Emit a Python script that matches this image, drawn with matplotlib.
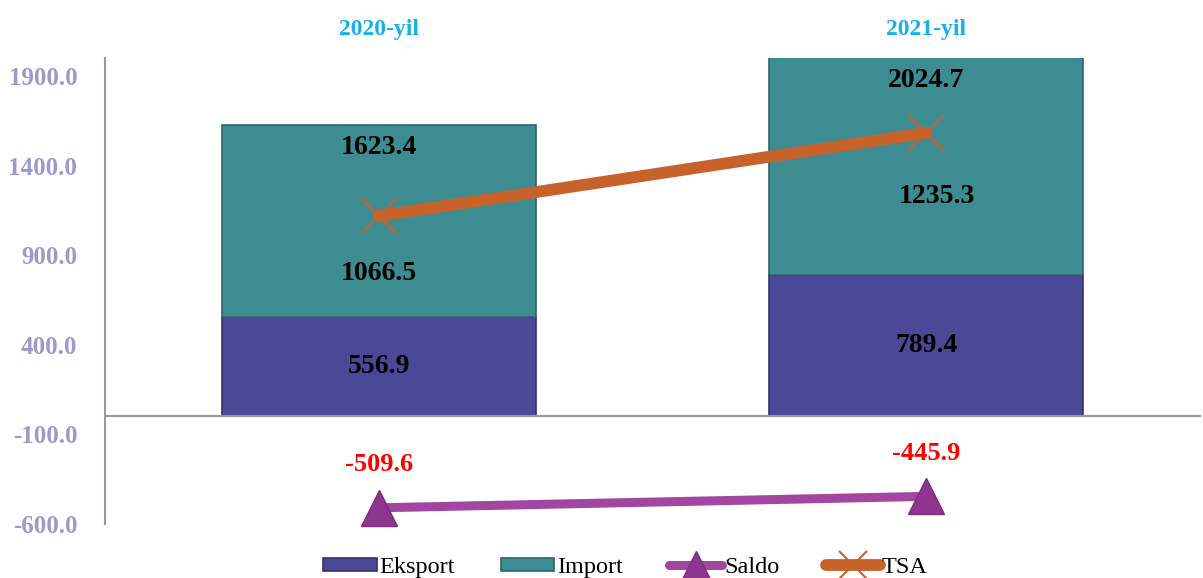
# trade chart: eksport / import bars, saldo and TSA lines
import matplotlib
matplotlib.use('Agg')
import matplotlib.pyplot as plt
import matplotlib.transforms as mtransforms
import numpy as np

# data
years = ['2020-yil', '2021-yil']
eksport = [556.9, 789.4]
import_ = [1066.5, 1235.3]
saldo = [-509.6, -445.9]
tsa = [1623.4, 2024.7]
yticks = [-600, -100, 400, 900, 1400, 1900]

plt.rcParams['font.family'] = ['Liberation Serif', 'DejaVu Serif']

fig = plt.figure(figsize=(12.03, 5.78), dpi=100)
ax = fig.add_axes([105/1203, 1-524/578, 1095/1203, 466/578])

x = np.arange(len(years))
w = 0.573

# bars
b1 = ax.bar(x, eksport, w, color='#4b4898', edgecolor='#34326c', linewidth=1.2,
            label='Eksport', zorder=2)
b2 = ax.bar(x, import_, w, bottom=eksport, color='#3d8c91', edgecolor='#2b6669',
            linewidth=1.2, label='Import', zorder=2)

# saldo line
l1, = ax.plot(x, saldo, '-', color='#a146a1', lw=6.5, marker='^', ms=26,
              mfc='#8e358f', mec='#7a2d7b', solid_capstyle='round', label='Saldo',
              zorder=4, clip_on=False)

ax.set_xlim(-0.5, 1.5)
ax.set_ylim(-600, 2000)
ax.set_yticks(yticks)
ax.set_yticklabels(['%.1f' % v for v in yticks], fontsize=18, fontweight='bold',
                   color='#9a9acb')
ax.tick_params(axis='y', length=0, pad=20)
ax.set_xticks([])

# year labels on top
trans = mtransforms.blended_transform_factory(ax.transData, ax.transAxes)
for i in range(len(x)):
    ax.text(x[i], 1 + 28/466, years[i], transform=trans, ha='center', va='center',
            fontsize=17, fontweight='bold', color='#16b0ea')

ax.spines['top'].set_visible(False)
ax.spines['right'].set_visible(False)
ax.spines['bottom'].set_position(('data', 0))
ax.spines['bottom'].set_color('#999999')
ax.spines['bottom'].set_linewidth(1.5)
ax.spines['left'].set_color('#999999')
ax.spines['left'].set_linewidth(1.5)

# TSA on hidden secondary axis
ax2 = ax.twinx()
ax2.set_ylim(134, 2387)
ax2.axis('off')
l2, = ax2.plot(x, tsa, '-', color='#c6622a', lw=8.5, marker='x', ms=26, mew=1.5,
               mec='#c6622a', solid_capstyle='round', label='TSA', zorder=3)

# value labels
lbl = dict(ha='center', va='center', fontsize=20, fontweight='bold', color='black')
import_lbl_y = [800, 1225]
for i in range(len(x)):
    ax2.text(x[i], eksport[i]/2, '%.1f' % eksport[i], transform=ax.transData, **lbl)
    ax2.annotate('%.1f' % import_[i], xy=(x[i], import_lbl_y[i]), xycoords=ax.transData,
                 xytext=(8*i, 0), textcoords='offset points', **lbl)
    ax2.annotate('%.1f' % tsa[i], xy=(x[i], min(eksport[i]+import_[i], 2000)),
                 xycoords=ax.transData, xytext=(0, -16), textcoords='offset points',
                 **lbl)
    ax2.annotate('%.1f' % saldo[i], xy=(x[i], saldo[i]), xycoords=ax.transData,
                 xytext=(0, 31), textcoords='offset points', ha='center', va='center',
                 fontsize=19, fontweight='bold', color='#ff0000')

# legend
fig.legend([b1, b2, l1, l2], ['Eksport', 'Import', 'Saldo', 'TSA'],
           loc='lower center', bbox_to_anchor=(0.52, -0.038), ncol=4, frameon=False,
           fontsize=17.5, handlelength=2.2, handleheight=0.5, handletextpad=0.1,
           columnspacing=1.9, markerscale=0.8)

plt.savefig('out.png', dpi=100)
